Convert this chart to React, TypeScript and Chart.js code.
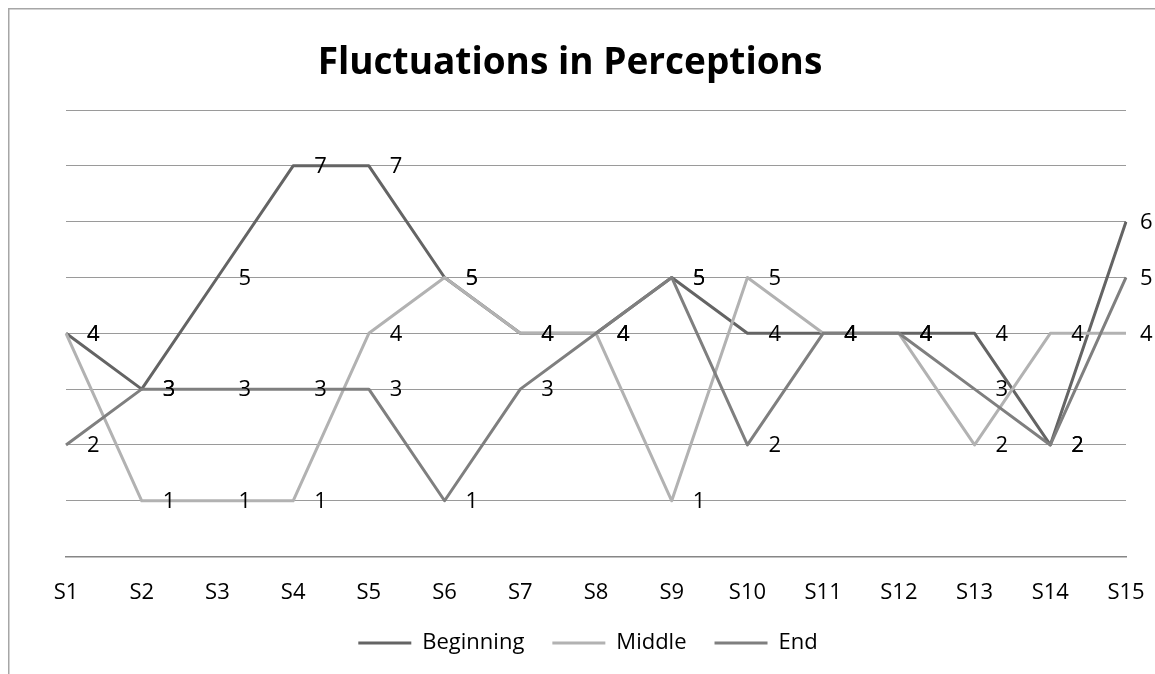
import React, { useEffect, useRef } from "react";
import { Chart, registerables } from "chart.js";

Chart.register(...registerables);

const categories = ["S1", "S2", "S3", "S4", "S5", "S6", "S7", "S8", "S9", "S10", "S11", "S12", "S13", "S14", "S15"];
const beginning = [4, 3, 5, 7, 7, 5, 4, 4, 5, 4, 4, 4, 4, 2, 6];
const middle = [4, 1, 1, 1, 4, 5, 4, 4, 1, 5, 4, 4, 2, 4, 4];
const end = [2, 3, 3, 3, 3, 1, 3, 4, 5, 2, 4, 4, 3, 2, 5];
const seriesNames = ["Beginning", "Middle", "End"];
const yTicks = [0, 1, 2, 3, 4, 5, 6, 7, 8];
const titleText = "Fluctuations in Perceptions";

const FONT = "'Open Sans', 'DejaVu Sans', sans-serif";
const COLORS = ["#646464", "#b2b2b2", "#7f7f7f"];

const framePlugin = {
  id: "frame",
  afterDraw(chart: any) {
    const { ctx, width, height } = chart;
    ctx.save();
    ctx.strokeStyle = "#a6a6a6";
    ctx.lineWidth = 1.5;
    ctx.beginPath();
    ctx.moveTo(0.75, height);
    ctx.lineTo(0.75, 0.75);
    ctx.lineTo(width, 0.75);
    ctx.stroke();
    ctx.fillStyle = "#000";
    ctx.font = `bold 37px ${FONT}`;
    ctx.textAlign = "center";
    ctx.textBaseline = "alphabetic";
    ctx.fillText(titleText, 562, 66);
    ctx.restore();
  },
};

const labelPlugin = {
  id: "valueLabels",
  afterDatasetsDraw(chart: any) {
    const { ctx, chartArea } = chart;
    ctx.save();
    ctx.fillStyle = "#000";
    ctx.font = `22px ${FONT}`;
    ctx.textAlign = "left";
    ctx.textBaseline = "middle";
    chart.data.datasets.forEach((ds: any, i: number) => {
      const meta = chart.getDatasetMeta(i);
      meta.data.forEach((el: any, j: number) => {
        const x = Math.min(el.x + 21, chartArea.right + 14);
        ctx.fillText(String(ds.data[j]), x, el.y + 1);
      });
    });
    ctx.restore();
  },
};

export default function App() {
  const ref = useRef<HTMLCanvasElement>(null);
  useEffect(() => {
    document.documentElement.style.overflow = "hidden";
    document.body.style.marginRight = "0px";
    const data = [beginning, middle, end];
    const chart = new Chart(ref.current as HTMLCanvasElement, {
      type: "line",
      data: {
        labels: categories,
        datasets: seriesNames.map((name, i) => ({
          label: name,
          data: data[i],
          borderColor: COLORS[i],
          backgroundColor: COLORS[i],
          borderWidth: 3,
          pointRadius: 0,
          tension: 0,
          borderJoinStyle: "round" as const,
          order: 2 - i,
          yAxisID: "y",
        })),
      },
      options: {
        responsive: false,
        animation: false,
        layout: { padding: { top: 102, bottom: 10, left: 13, right: 0 } },
        plugins: {
          title: { display: false },
          tooltip: { enabled: false },
          legend: {
            position: "bottom",
            labels: {
              color: "#000",
              font: { family: FONT, size: 22 },
              boxWidth: 53,
              boxHeight: 3,
              padding: 28,
              sort: (a: any, b: any) => a.datasetIndex - b.datasetIndex,
              generateLabels: (c: any) =>
                Chart.defaults.plugins.legend.labels.generateLabels(c).map((l: any) => ({ ...l, lineWidth: 0 })),
            },
          },
        },
        scales: {
          x: {
            offset: false,
            grid: { display: false, drawTicks: false },
            border: { display: true, color: "#868686", width: 1.5 },
            ticks: { color: "#000", font: { family: FONT, size: 22 }, padding: 23, maxRotation: 0, autoSkip: false },
            afterFit: (s: any) => {
              s.height = s.height - 25;
              s.paddingLeft = 0;
              s.paddingRight = 0;
            },
          },
          y: {
            min: yTicks[0],
            max: yTicks[yTicks.length - 1],
            afterBuildTicks: (s: any) => {
              s.ticks = yTicks.map((v) => ({ value: v }));
            },
            ticks: { display: false },
            border: { display: false },
            grid: { color: "#9a9a9a", lineWidth: 1, drawTicks: false },
            afterFit: (s: any) => {
              s.width = 45;
            },
          },
          y2: {
            position: "right",
            display: true,
            ticks: { display: false },
            border: { display: false },
            grid: { display: false, drawTicks: false },
            afterFit: (s: any) => {
              s.width = 29;
            },
          },
        },
      },
      plugins: [labelPlugin, framePlugin],
    });
    return () => chart.destroy();
  }, []);
  return <canvas ref={ref} width={1147} height={666} style={{ display: "block" }} />;
}
